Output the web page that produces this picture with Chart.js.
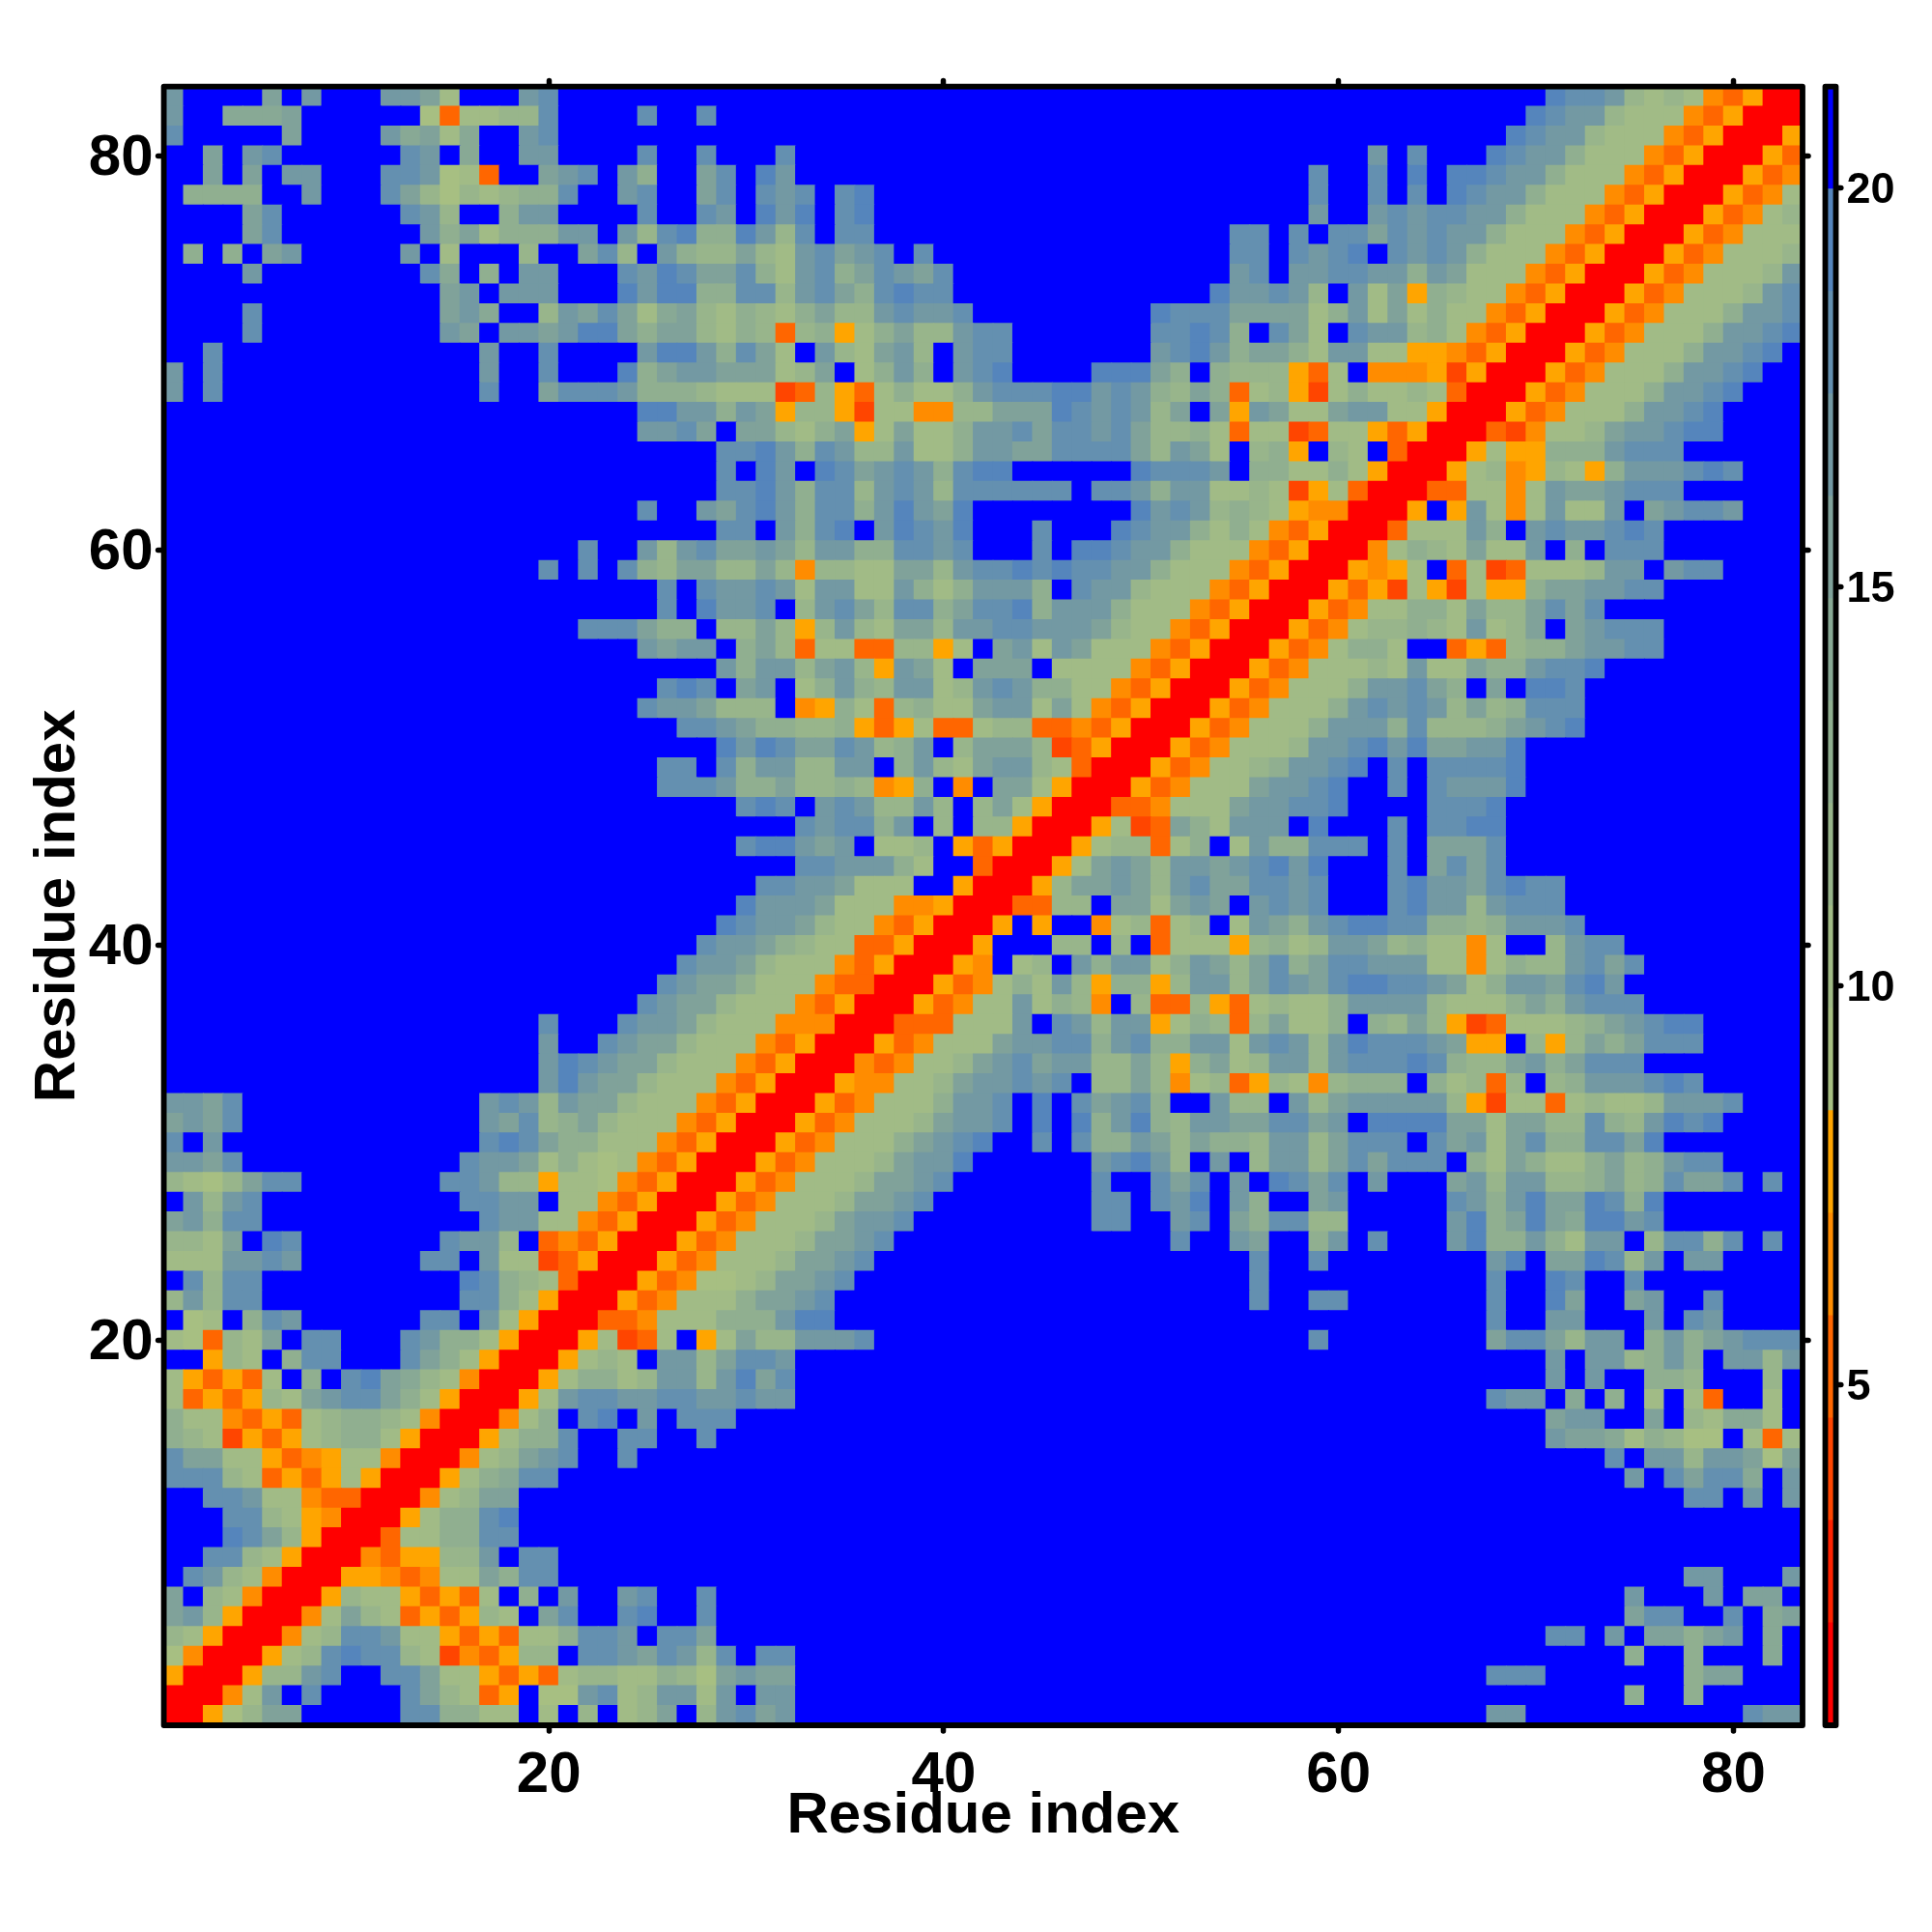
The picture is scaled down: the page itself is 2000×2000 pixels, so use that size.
<!DOCTYPE html>
<html><head><meta charset="utf-8">
<style>html,body{margin:0;padding:0;background:#fff;width:2000px;height:2000px;overflow:hidden}
#wrapMain{position:absolute;left:0;top:0;width:1880px;height:1960px}
#wrapBar{position:absolute;left:1860px;top:0;width:140px;height:1960px}</style>
<script src="https://cdn.jsdelivr.net/npm/chart.js@4"></script>
</head><body>
<div id="wrapMain"><canvas id="main"></canvas></div>
<div id="wrapBar"><canvas id="bar"></canvas></div>
<script>
const residueCount = 83;
const axisTicks = [20,40,60,80];
const barTicks = [5,10,15,20];
const axisTitle = "Residue index";
const scaleMin = 0.74;
const bandWidth = 1.283;
const bandColours = ["#FF0000","#FF2200","#FF4500","#FF6600","#FF8C00","#FFA500",
  "#A7BF82","#A1BB86","#98B58B","#90AF90","#88A995","#80A29A","#7399A3","#6490B0","#5585BC","#0000FF"];
// distance band of each residue pair (hex band index), one row per residue from the diagonal outwards,
// written as column:bands runs; pairs not listed lie in the top band
const pairRows = [
"1:00568bb 13:dd9977 20:7 22:8 24:78b 28:8cdbc 68:cc 81:dcc",
"2:0047c 8:d 13:db8735 20:66cd78cc7c 31:cc 75:9 78:9",
"3:00588cd 12:ddb77535378877986bcbb 68:ddd 78:9bb",
"4:00578dedd87243588 22:ddcbdc8d 31:dd 75:9 78:9 82:a",
"5:00478ddc775353779ddc 26:ddb 71:dd 74:c 76:bb9bc 82:a",
"6:0047b87353587 20:bd 24:de 28:d 75:bdd 80:d 82:ab",
"7:00587753537 19:9 21:c 24:cd 28:d 75:c 79:c 81:bb",
"8:005543477b9dd 78:cc 83:c",
"9:00435588c 19:dd",
"10:0037799dd",
"11:005799de",
"12:00478bb 78:dd 81:c 83:c",
"13:00579add 75:c 77:dbdda 83:c",
"14:00478bcd 24:d 74:d 76:cc8ccb6b",
"15:005799d 24:dd 28:d 71:cbba79866 81:737",
"16:00479 22:de 25:c 27:ddd 71:bcc 76:b 78:87aa7",
"17:0057cddccddccdcc 68:dcc 72:a 74:9 76:7 78:73 82:7",
"18:00579978cc8cebd 71:c 73:c 76:998 82:8",
"19:005787 26:cc8bddc 71:c 73:cc89c9 80:cc8c",
"20:0057237 28:57b88cccd 59:d 68:bddb8cc 76:9c9bcddd",
"21:00334777999cee 68:d 71:cc 76:c 78:dc",
"22:005347779bbcd 56:d 59:dd 68:d 71:eb 75:bc 79:d",
"23:005346678bbcd 56:d 68:d 71:ed 75:d",
"24:005347778bbcd 56:d 59:d 68:ce 71:bbed8c 78:cc",
"25:005347778bbcd 52:d 55:cb 59:9c 62:d 66:ce99c97cc 76:8dd9d 82:d",
"26:005347778bccd 48:dd 52:cd 55:b9dd88 66:ce9bebaeecd",
"27:005347778bbcd 48:dd 51:dce 55:c9 59:bc 66:dc9cebbed9e",
"28:005347778bbcd 48:d 51:dbd 55:c 57:edbd 62:c 66:bc8cc889b89dbbd 82:d",
"29:005347778bcce 48:cdec8 54:c 56:8cc8bdbddd 67:97b9779b89cdd",
"30:005347779bcde 45:d 47:d99cb8b998cc8bddd 65:dbc7bd99ddbe",
"31:005347778bccd 45:e 47:e9ce98ccbbddbc 62:eeeebb7bb88d98cede",
"32:005347779ccd 45:e 47:dbcd9 54:c88 58:c8bccccc85277378778cccd",
"33:00544778bccdcd 48:88b8478358748999 65:97838 71:89cccded",
"34:00434778bcdbcc88b859b78cc8cddded988bc9bddd",
"35:00534777bccdd9cd99cc7cdc8cedddcb55 70:858b9bddd",
"36:00333777c 46:dc8cc579838b779 62:98b852377789bcdee",
"37:0053477c7984 50:83385378779cccc87779b9cddd",
"38:00534797c859958cc8bdcbdeeddcb79ccbdec",
"39:0054 44:78 47:c9cc79cb8bd9bddccc7747988cdbd",
"40:005 46:88 49:8 51:377758978ccb897747 71:8cdd",
"41:005 45:5 48:478378 55:7cb9cdeedd9989cccd",
"42:003388 49:bb7bcb 56:cdcd 63:decc8cddd",
"43:0058bbcb8cdbbddcd 63:deccbdedd",
"44:0057bcb8ccbcdece 63:d 65:bdbd",
"45:005788379 55:7c99ddd 63:d 65:bbbd",
"46:005723b97ccc 59:e 63:d 65:ddee",
"47:00334777bccdde 65:ddde",
"48:00534777bccde 63:d 65:dccce",
"49:005347789ccde 63:d 65:dddde",
"50:005347778ccdecebbcce",
"51:005347779ccc9d8889bcde",
"52:005347779cdcdc8b89ddd",
"53:005347779ccdb9 68:b 70:eed",
"54:0053477787c77b99cdde",
"55:005347997 66:353899bccdd",
"56:00534788987c78b 72:bcddd",
"57:0053477997b88bdbd",
"58:0053527527559bbccdd",
"59:005457 66:37237778cc 77:cdd",
"60:0047987b77c 72:9 74:ddd",
"61:003777c9 70:cdccded",
"62:005 66:5c747c77c 76:bcddc",
"63:00337747cbbcddd",
"64:00578458759cccded",
"65:005755999cddd",
"66:00324778bccdee",
"67:005347779ccde",
"68:005347779ccde",
"69:005347779ccde",
"70:005347779ccde",
"71:005347779ccde",
"72:005347779ccd",
"73:005347778cd",
"74:005347778c",
"75:005347778",
"76:00534777",
"77:0053478",
"78:005347",
"79:00534",
"80:0053",
"81:005",
"82:00",
"83:0"
];

// expand band rows into a symmetric matrix of distances (band centres)
const bands = [];
for(let i=0;i<residueCount;i++) bands.push(new Array(residueCount).fill(15));
pairRows.forEach((row,r)=>{
  row.split(" ").forEach(seg=>{
    const [start,vals]=seg.split(":");
    [...vals].forEach((c,k)=>{
      const col=+start-1+k;
      if(col<residueCount){bands[r][col]=parseInt(c,16);bands[col][r]=parseInt(c,16);}
    });
  });
});
const distance = b => scaleMin+(b+0.5)*bandWidth;
const colourOf = v => bandColours[Math.min(15,Math.max(0,Math.floor((v-scaleMin)/bandWidth)))];

const frame = {id:"frame",
  beforeDraw(c){
    c.ctx.lineCap="round";
    const id="y",n=c.options.labelNudge;
    if(c.$nudged!==c.scales[id]._labelItems){
      const items=c.scales[id].getLabelItems(c.chartArea);
      items.forEach(it=>{it.options.translation=[it.options.translation[0],it.options.translation[1]+n];});
      c.$nudged=items;
    }
  },
  afterDatasetsDraw(c){
    const a=c.chartArea,x=c.ctx;x.save();x.strokeStyle="#000";x.lineWidth=c.options.frameWidth;x.lineJoin="round";
    x.strokeRect(a.left,a.top,a.right-a.left,a.bottom-a.top);x.restore();}};

const FONT="'Liberation Sans',Arial,sans-serif";
const setTicks = list => s => { s.ticks=list.map(v=>({value:v})); };
const gridOpts = {display:true,offset:false,drawOnChartArea:false,drawTicks:true,tickLength:6,tickWidth:5.5,tickColor:"#000"};

const AREA={left:169.6,right:1866,top:89.6,bottom:1786};
const W=1880,H=1960;

const datasets = [];
for(let r=0;r<residueCount;r++){
  const data=[],colors=[];
  for(let c=0;c<residueCount;c++){
    const v=distance(bands[r][c]);
    data.push({x:c+1,y:[r+0.5,r+1.5],v});
    colors.push(colourOf(v));
  }
  datasets.push({data,backgroundColor:colors,borderWidth:0,grouped:false,barPercentage:1,categoryPercentage:1,inflateAmount:0.5});
}
new Chart(document.getElementById("main"),{
  type:"bar",
  data:{datasets},
  plugins:[frame],
  options:{
    frameWidth:5.8,labelNudge:3,responsive:true,maintainAspectRatio:false,animation:false,
    layout:{padding:0},
    plugins:{legend:{display:false},tooltip:{enabled:false}},
    scales:{
      x:{type:"linear",position:"bottom",offset:false,min:0.5,max:83.5,border:{display:false},grid:gridOpts,
        afterBuildTicks:setTicks(axisTicks),afterFit(s){s.height=H-AREA.bottom;},
        ticks:{autoSkip:false,maxRotation:0,padding:10,color:"#000",font:{family:FONT,weight:"bold",size:60}},
        title:{display:true,text:axisTitle,color:"#000",font:{family:FONT,weight:"bold",size:60},padding:{top:0,bottom:44}}},
      y:{type:"linear",position:"left",min:0.5,max:83.5,border:{display:false},grid:gridOpts,
        afterBuildTicks:setTicks(axisTicks),afterFit(s){s.width=AREA.left;},
        ticks:{autoSkip:false,maxRotation:0,padding:5,color:"#000",font:{family:FONT,weight:"bold",size:60}},
        title:{display:true,text:axisTitle,color:"#000",font:{family:FONT,weight:"bold",size:60},padding:{top:24,bottom:0}}},
      x2:{type:"linear",position:"top",offset:false,min:0.5,max:83.5,border:{display:false},grid:gridOpts,
        afterBuildTicks:setTicks(axisTicks),afterFit(s){s.height=AREA.top;},ticks:{display:false}},
      y2:{type:"linear",position:"right",min:0.5,max:83.5,border:{display:false},grid:gridOpts,
        afterBuildTicks:setTicks(axisTicks),afterFit(s){s.width=W-AREA.right;},ticks:{display:false}}
    }
  }
});

// colour bar
const barBands = bandColours.map((c,i)=>i);
new Chart(document.getElementById("bar"),{
  type:"bar",
  data:{labels:[""],datasets:barBands.map(b=>({
    data:[[scaleMin+b*bandWidth,scaleMin+(b+1)*bandWidth]],
    backgroundColor:bandColours[b],borderWidth:0,grouped:false,barPercentage:1,categoryPercentage:1,inflateAmount:0.5}))},
  plugins:[frame],
  options:{
    frameWidth:5.8,labelNudge:3,responsive:true,maintainAspectRatio:false,animation:false,
    layout:{padding:{left:29.5,top:89.6,bottom:H-AREA.bottom,right:0}},
    plugins:{legend:{display:false},tooltip:{enabled:false}},
    scales:{
      x:{display:false},
      y:{type:"linear",position:"right",min:scaleMin,max:scaleMin+16*bandWidth,border:{display:false},
        grid:{display:true,drawOnChartArea:false,drawTicks:true,tickLength:5.3,tickWidth:5.5,tickColor:"#000"},
        afterBuildTicks:setTicks(barTicks),afterFit(s){s.width=99.5;},
        ticks:{autoSkip:false,padding:5.7,color:"#000",font:{family:FONT,weight:"bold",size:45}}}
    }
  }
});
</script>
</body></html>
